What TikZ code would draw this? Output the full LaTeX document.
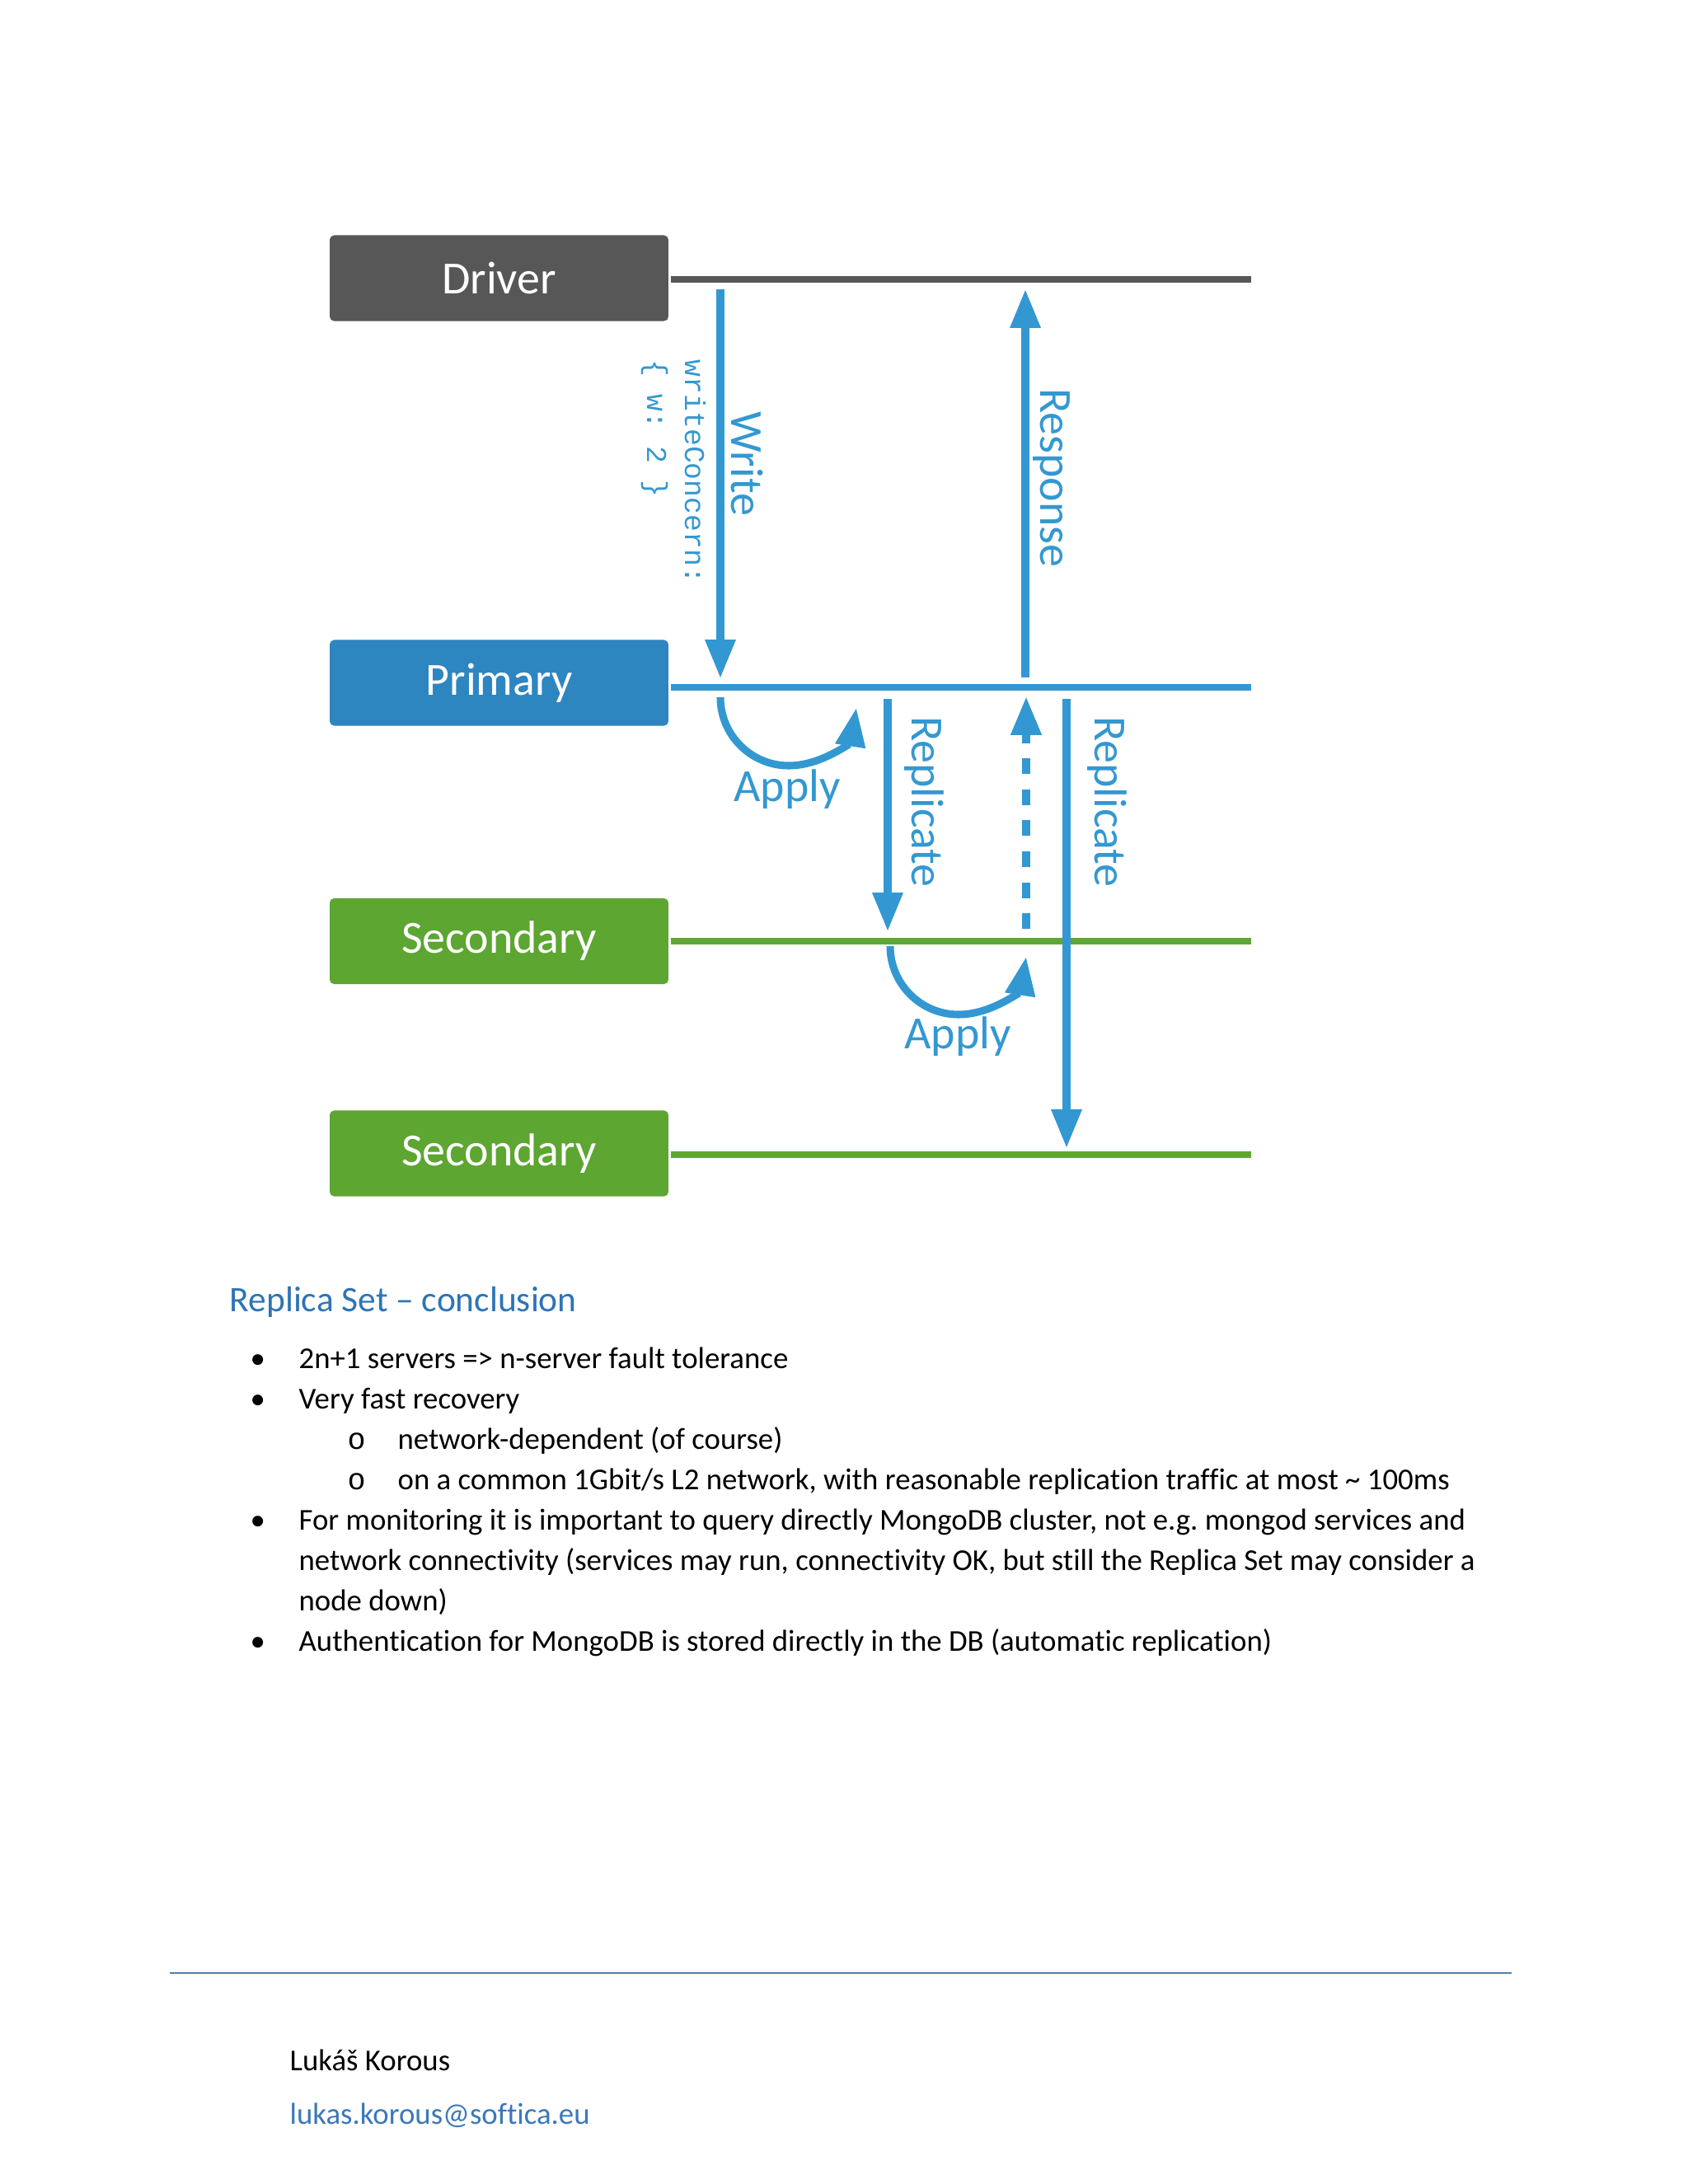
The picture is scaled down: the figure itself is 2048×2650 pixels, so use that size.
\documentclass[tikz,border=0pt]{standalone}
\usepackage{fontspec}
\setmainfont[Ligatures={NoCommon}]{Carlito}
\newfontfamily\wcmono{Liberation Mono}
\usetikzlibrary{arrows.meta}
\definecolor{drvgray}{HTML}{575757}
\definecolor{pribox}{HTML}{2E86C1}
\definecolor{blueln}{HTML}{3398D2}
\definecolor{grnbox}{HTML}{5DA631}
\definecolor{grnln}{HTML}{5EA832}
\definecolor{headblue}{HTML}{2E74B5}
\definecolor{footln}{HTML}{4F7FAE}
\definecolor{mailblue}{HTML}{3B78BA}
\newcommand\diagfont{\fontsize{16.7}{20}\selectfont}
\newcommand\bodyfont{\fontsize{11}{13.5}\selectfont}
\frenchspacing
\begin{document}
\frenchspacing
\begin{tikzpicture}[x=0.298828pt,y=0.298828pt,
  box/.style={rounded corners=1.6pt, inner sep=0pt, minimum width=122.8pt,
    minimum height=31.1pt, text=white, font=\diagfont},
  hline/.style={line width=2.6pt},
  arr/.style={draw=blueln, line width=2.7pt,
    -{Triangle[length=14pt,width=10.5pt]}},
  lbl/.style={text=blueln, font=\diagfont, inner sep=0pt},
  wc/.style={text=blueln, font=\wcmono\fontsize{10.4}{12}\selectfont,
    inner sep=0pt, anchor=base west, rotate=-90},
  body/.style={font=\bodyfont, inner sep=0pt, anchor=base west},
  bul/.style={font=\bodyfont, inner sep=0pt, anchor=base west},
  sbul/.style={font=\wcmono\fontsize{11}{13}\selectfont, inner sep=0pt, anchor=base west}]
\useasboundingbox (0,0) rectangle (2048,-2650);
\fill[white] (0,0) rectangle (2048,-2650);

% boxes
\node[box, fill=drvgray] (drv) at (605.5,-337.5) {Driver};
\node[box, fill=pribox] (pri) at (605.5,-828.5) {Primary};
\node[box, fill=grnbox] (sec1) at (605.5,-1142) {Secondary};
\node[box, fill=grnbox] (sec2) at (605.5,-1399.5) {Secondary};

% timelines
\coordinate (drvR) at (1518,-339);
\coordinate (priR) at (1518,-834);
\coordinate (sec1R) at (1518,-1142);
\coordinate (sec2R) at (1518,-1401);
\draw[hline, drvgray, line width=2.4pt] ([xshift=0.6pt]drv.east |- drvR) -- (drvR);
\draw[hline, blueln] ([xshift=0.6pt]pri.east |- priR) -- (priR);
\draw[hline, grnln, line width=2.4pt] ([xshift=0.6pt]sec1.east |- sec1R) -- (sec1R);
\draw[hline, grnln, line width=2.4pt] ([xshift=0.6pt]sec2.east |- sec2R) -- (sec2R);

% arrows
\coordinate (wS) at (874,-351);
\coordinate (wE) at (874,-823);
\draw[arr] (wS) -- (wE);
\coordinate (rS) at (1244,-822);
\coordinate (rE) at (1244,-351);
\draw[arr] (rS) -- (rE);
\coordinate (rp1S) at (1077,-848);
\coordinate (rp1E) at (1077,-1130);
\draw[arr] (rp1S) -- (rp1E);
\coordinate (rp2S) at (1294,-848);
\coordinate (rp2E) at (1294,-1393);
\draw[arr] (rp2S) -- (rp2E);
\coordinate (dS) at (1245,-1127);
\coordinate (dE) at (1245,-845);
\draw[arr, line width=3pt, dash pattern=on 5.68pt off 5.53pt] (dS) -- (dE);
\coordinate (a1S) at (874,-846);
\draw[arr] (a1S) arc[start angle=180, end angle=351, radius=83];
\coordinate (a2S) at (1080,-1148);
\draw[arr] (a2S) arc[start angle=180, end angle=351, radius=83];

% labels
\node[lbl, rotate=-90] (wl) at (907,-563) {Write};
\node[lbl, rotate=-90] (rl) at (1276,-580) {Response};
\node[lbl, rotate=-90] (rp1l) at (1121,-973) {Replicate};
\node[lbl, rotate=-90] (rp2l) at (1343,-973) {Replicate};
\node[lbl] (ap1l) at (955,-958) {Apply};
\node[lbl] (ap2l) at (1162,-1258) {Apply};
\node[wc] (wc1) at (831,-436) {writeConcern:};
\node[wc] (wc2) at (785,-436) {\{ w: 2 \}};

% text
\node[body, text=headblue, font=\fontsize{13}{16}\selectfont] (head) at (278,-1591) {Replica Set – conclusion};
\node[bul] (b1) at (303,-1660) {•};
\node[body] (t1) at (362,-1660) {2n+1 servers => n-server fault tolerance};
\node[bul] (b2) at (303,-1709) {•};
\node[body] (t2) at (362,-1709) {Very fast recovery};
\node[sbul] (s1) at (421,-1758) {o};
\node[body] (t3) at (482,-1758) {network-dependent (of course)};
\node[sbul] (s2) at (421,-1807) {o};
\node[body] (t4) at (482,-1807) {on a common 1Gbit/s L2 network, with reasonable replication traffic at most \textasciitilde{} 100ms};
\node[bul] (b3) at (303,-1856) {•};
\node[body] (t5) at (362,-1856) {For monitoring it is important to query directly MongoDB cluster, not e.g. mongod services and};
\node[body] (t6) at (362,-1905) {network connectivity (services may run, connectivity OK, but still the Replica Set may consider a};
\node[body] (t7) at (362,-1954) {node down)};
\node[bul] (b4) at (303,-2003) {•};
\node[body] (t8) at (362,-2003) {Authentication for MongoDB is stored directly in the DB (automatic replication)};

% footer
\coordinate (fL) at (206,-2394);
\coordinate (fR) at (1834,-2394);
\draw[footln, line width=0.6pt] (fL) -- (fR);
\node[body] (auth) at (351,-2512) {Lukáš Korous};
\node[body, text=mailblue] (mail) at (351,-2577) {lukas.korous@softica.eu};
\end{tikzpicture}
\end{document}
